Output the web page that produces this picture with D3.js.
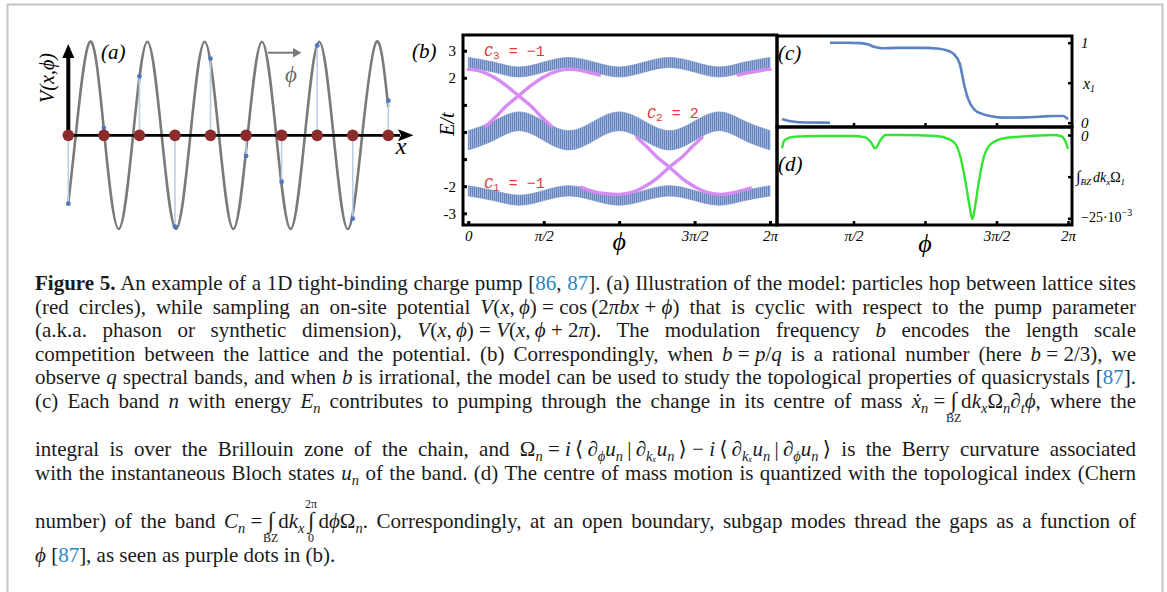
<!DOCTYPE html>
<html>
<head>
<meta charset="utf-8">
<script src="https://cdn.jsdelivr.net/npm/d3@7"></script>
<style>
  html, body { margin: 0; padding: 0; background: #fff; }
  svg { display: block; }
</style>
</head>
<body>
<svg id="fig" width="1167" height="592"></svg>
<script>
const PI = Math.PI;

// ---------- (a) lattice model ----------
const siteIndex = [0, 1, 2, 3, 4, 5, 6, 7, 8, 9];
const siteValues = [-0.73, 0.08, 0.63, -0.975, 0.82, -0.22, -0.495, 0.96, -0.89, 0.37];
// potential sampled at its extrema and nodes (position in lattice spacings)
const waveU = [0, 0.21, 0.613, 1.016, 1.419, 1.822, 2.224, 2.627, 3.03, 3.433, 3.835, 4.238,
               4.641, 5.044, 5.446, 5.849, 6.252, 6.655, 7.057, 7.46, 7.863, 8.266, 8.668, 9.0];
const waveV = [-0.73, 0, 1, 0, -1, 0, 1, 0, -1, 0, 1, 0,
               -1, 0, 1, 0, -1, 0, 1, 0, -1, 0, 1, 0.3];

// ---------- (b) spectrum vs phason (phi in units of pi) ----------
const bandPhi = [0, 1/6, 1/3, 1/2, 2/3, 5/6, 1, 7/6, 4/3, 3/2, 5/3, 11/6, 2];
const band3Hi = [2.75, 2.58, 2.40, 2.58, 2.75, 2.58, 2.40, 2.58, 2.75, 2.58, 2.40, 2.58, 2.75];
const band3Lo = [2.38, 2.21, 2.03, 2.21, 2.38, 2.21, 2.03, 2.21, 2.38, 2.21, 2.03, 2.21, 2.38];
const band2Hi = [0.05, 0.40, 0.74, 0.40, 0.05, 0.40, 0.74, 0.40, 0.05, 0.40, 0.74, 0.40, 0.05];
const band2Lo = [-0.66, -0.31, 0.05, -0.31, -0.66, -0.31, 0.05, -0.31, -0.66, -0.31, 0.05, -0.31, -0.66];
const band1Hi = [-1.98, -2.16, -2.33, -2.16, -1.98, -2.16, -2.33, -2.16, -1.98, -2.16, -2.33, -2.16, -1.98];
const band1Lo = [-2.36, -2.53, -2.70, -2.53, -2.36, -2.53, -2.70, -2.53, -2.36, -2.53, -2.70, -2.53, -2.36];
const bandTicksE = [-3, -2, -1, 0, 1, 2, 3];
const bandLabelsE = [-3, -2, 2, 3];

// edge (subgap) modes
const edgeAPhi = [0, 0.083, 0.167, 0.25, 0.333, 0.417, 0.477, 0.55];
const edgeAE   = [2.31, 2.24, 2.03, 1.72, 1.34, 0.95, 0.60, 0.22];
const edgeBPhi = [0.117, 0.19, 0.25, 0.333, 0.417, 0.5, 0.583, 0.667, 0.75, 0.87];
const edgeBE   = [0.22, 0.60, 0.95, 1.34, 1.72, 2.03, 2.24, 2.31, 2.27, 2.10];
const edgeB2Phi = [1.79, 1.87, 1.95, 2.0];
const edgeB2E   = [2.10, 2.20, 2.28, 2.31];
const edgeCPhi = [0.75, 0.833, 0.917, 1.0, 1.083, 1.167, 1.25, 1.333, 1.417, 1.477, 1.55];
const edgeCE   = [-2.04, -2.21, -2.28, -2.30, -2.23, -2.02, -1.71, -1.30, -0.92, -0.58, -0.20];
const edgeDPhi = [1.117, 1.19, 1.25, 1.333, 1.417, 1.5, 1.583, 1.667, 1.75, 1.87];
const edgeDE   = [-0.20, -0.58, -0.92, -1.30, -1.71, -2.02, -2.23, -2.30, -2.25, -2.07];

// ---------- (c) centre of mass of band 1 ----------
const comPhi1 = [0, 0.05, 0.1, 0.2, 0.336];
const comX1   = [0.046, 0.02, 0.008, 0.002, 0.0];
const comPhi2 = [0.336, 0.45, 0.55, 0.6, 0.65, 0.7, 0.8, 1.0, 1.1, 1.15, 1.2, 1.2425, 1.277, 1.3, 1.347, 1.4, 1.455, 1.548, 1.7, 1.8, 1.897, 1.967, 2.0];
const comX2   = [1.0, 1.0, 0.995, 0.98, 0.945, 0.93, 0.935, 0.935, 0.925, 0.905, 0.86, 0.74, 0.45, 0.305, 0.16, 0.11, 0.084, 0.063, 0.066, 0.075, 0.084, 0.084, 0.042];

// ---------- (d) integrated Berry curvature (x 1e-3) ----------
const curvPhi = [0, 0.018, 0.088, 0.253, 0.488, 0.583, 0.618, 0.653, 0.689, 0.724, 0.841, 1.077, 1.171, 1.218, 1.253,
                 1.289, 1.312, 1.331, 1.350, 1.371, 1.406, 1.453, 1.547, 1.665, 1.900, 1.948, 1.983, 2.0];
const curvVal = [-4.0, -1.5, -0.5, -0.3, -0.3, -0.7, -2.0, -4.0, -1.5, 0, 0, -0.3, -1.3, -3.0, -7.5,
                 -15.5, -21.5, -25.3, -21.5, -15.5, -7.5, -3.0, -1.0, -0.5, 0, -0.3, -2.0, -4.2];

// ---------- caption ----------
const capLines = [
  "{b:Figure 5.} An example of a 1D tight-binding charge pump [{r:86}, {r:87}]. (a) Illustration of the model: particles hop between lattice sites",
  "(red circles), while sampling an on-site potential {i:V}({i:x},\u2009{i:ϕ})\u2005=\u2005cos\u2009(2{i:πbx}\u2005+\u2005{i:ϕ}) that is cyclic with respect to the pump parameter",
  "(a.k.a. phason or synthetic dimension), {i:V}({i:x},\u2009{i:ϕ})\u2005=\u2005{i:V}({i:x},\u2009{i:ϕ}\u2005+\u20052{i:π}). The modulation frequency {i:b} encodes the length scale",
  "competition between the lattice and the potential. (b) Correspondingly, when {i:b}\u2005=\u2005{i:p}/{i:q} is a rational number (here {i:b}\u2005=\u20052/3), we",
  "observe {i:q} spectral bands, and when {i:b} is irrational, the model can be used to study the topological properties of quasicrystals [{r:87}].",
  "(c) Each band {i:n} with energy {i:E}{_:n} contributes to pumping through the change in its centre of mass {i:ẋ}{_:n}\u2005=\u2005{I:BZ}\u2009d{i:k}{_:x}Ω{_:n}∂{_:t}{i:ϕ}, where the",
  "integral is over the Brillouin zone of the chain, and Ω{_:n}\u2005=\u2005{i:i}\u2009⟨\u2009∂{_:ϕ}{i:u}{_:n}\u2009|\u2009∂{_:kₓ}{i:u}{_:n}\u2009⟩\u2005−\u2005{i:i}\u2009⟨\u2009∂{_:kₓ}{i:u}{_:n}\u2009|\u2009∂{_:ϕ}{i:u}{_:n}\u2009⟩ is the Berry curvature associated",
  "with the instantaneous Bloch states {i:u}{_:n} of the band. (d) The centre of mass motion is quantized with the topological index (Chern",
  "number) of the band {i:C}{_:n}\u2005=\u2005{I:BZ}\u2009d{i:k}{_:x}\u2006{J:0|2π}\u2009d{i:ϕ}Ω{_:n}. Correspondingly, at an open boundary, subgap modes thread the gaps as a function of",
  "{i:ϕ} [{r:87}], as seen as purple dots in (b)."
];
const capBaselines = [290, 313.5, 337, 360.5, 384, 407.5, 456, 479.5, 528, 562];

// ================= drawing =================
const svg = d3.select("#fig");
const serif = "'Liberation Serif', 'Times New Roman', 'DejaVu Serif', serif";
const defs = svg.append("defs");

// page frame
svg.append("path")
  .attr("d", "M7.5,592 V4.5 H1162.5 V592")
  .attr("fill", "none").attr("stroke", "#c4c4c4").attr("stroke-width", 2);

// ---------- panel (a) ----------
const xA = d3.scaleLinear().domain([0, 9]).range([68.3, 388.3]);
const yA = d3.scaleLinear().domain([-1, 1]).range([229, 41.7]);
const gA = svg.append("g");

gA.append("path")
  .datum(d3.zip(waveU, waveV))
  .attr("d", d3.line().x(d => xA(d[0])).y(d => yA(d[1])).curve(d3.curveNatural))
  .attr("fill", "none").attr("stroke", "#7a7a7a").attr("stroke-width", 2.6);

gA.selectAll("line.stem").data(siteIndex).join("line")
  .attr("class", "stem")
  .attr("x1", i => xA(i)).attr("x2", i => xA(i))
  .attr("y1", yA(0)).attr("y2", i => yA(siteValues[i]))
  .attr("stroke", "#bfcde8").attr("stroke-width", 1.6);

gA.selectAll("circle.val").data(siteIndex).join("circle")
  .attr("class", "val")
  .attr("cx", i => xA(i)).attr("cy", i => yA(siteValues[i])).attr("r", 2.4)
  .attr("fill", "#4e78bf");

// axes arrows
const axY = yA(0), axX = xA(0);
gA.append("line").attr("x1", axX).attr("x2", 400).attr("y1", axY).attr("y2", axY)
  .attr("stroke", "#000").attr("stroke-width", 2.6);
gA.append("path").attr("d", `M398,${axY - 6} L413.5,${axY} L398,${axY + 6} L401,${axY} Z`).attr("fill", "#000");
gA.append("line").attr("x1", axX).attr("x2", axX).attr("y1", axY).attr("y2", 56)
  .attr("stroke", "#000").attr("stroke-width", 4);
gA.append("path").attr("d", `M${axX - 6},58 L${axX},44 L${axX + 6},58 Z`).attr("fill", "#000");

gA.selectAll("circle.site").data(siteIndex).join("circle")
  .attr("class", "site")
  .attr("cx", i => xA(i)).attr("cy", axY).attr("r", 5.8)
  .attr("fill", "#8c2b2b");

// phason arrow
gA.append("line").attr("x1", 268).attr("x2", 295).attr("y1", 52.7).attr("y2", 52.7)
  .attr("stroke", "#7a7a7a").attr("stroke-width", 2);
gA.append("path").attr("d", "M293,48 L301.5,52.7 L293,57.4 Z").attr("fill", "#7a7a7a");
gA.append("text").attr("x", 291).attr("y", 82).attr("text-anchor", "middle")
  .style("font-family", serif).style("font-style", "italic").style("font-size", "23px")
  .attr("fill", "#6a6a6a").text("ϕ");

gA.append("text").attr("x", 101).attr("y", 59)
  .style("font-family", serif).style("font-style", "italic").style("font-size", "21px").text("(a)");
gA.append("text").attr("transform", "translate(54,78) rotate(-90)").attr("text-anchor", "middle")
  .style("font-family", serif).style("font-style", "italic").style("font-size", "20px").text("V(x,ϕ)");
gA.append("text").attr("x", 401).attr("y", 154).attr("text-anchor", "middle")
  .style("font-family", serif).style("font-style", "italic").style("font-size", "24px").text("x");

// ---------- panel (b) ----------
const bx0 = 463, bx1 = 777, by0 = 35, by1 = 225;
const xB = d3.scaleLinear().domain([0, 2 * PI]).range([468.3, 770]);
const yB = d3.scaleLinear().domain([-3, 3]).range([213.3, 50.7]);
const gB = svg.append("g");

const pat = defs.append("pattern").attr("id", "bandTex")
  .attr("patternUnits", "userSpaceOnUse").attr("width", 2).attr("height", 6);
pat.append("rect").attr("width", 2).attr("height", 6).attr("fill", "#6382bc");
pat.append("rect").attr("x", 1).attr("width", 1).attr("height", 6).attr("fill", "#9fb5dd");

const bandArea = d3.area()
  .x(d => xB(d[0] * PI)).y0(d => yB(d[1])).y1(d => yB(d[2]))
  .curve(d3.curveNatural);
[[band1Lo, band1Hi], [band2Lo, band2Hi], [band3Lo, band3Hi]].forEach(([lo, hi]) => {
  gB.append("path")
    .datum(bandPhi.map((p, i) => [p, lo[i], hi[i]]))
    .attr("d", bandArea)
    .attr("fill", "url(#bandTex)").attr("stroke", "#7893c8").attr("stroke-width", 0.7);
});

const edgeLine = d3.line().x(d => xB(d[0] * PI)).y(d => yB(d[1])).curve(d3.curveNatural);
[[edgeAPhi, edgeAE], [edgeBPhi, edgeBE], [edgeB2Phi, edgeB2E], [edgeCPhi, edgeCE], [edgeDPhi, edgeDE]]
  .forEach(([ph, en]) => {
    gB.append("path").datum(d3.zip(ph, en)).attr("d", edgeLine)
      .attr("fill", "none").attr("stroke", "#d68cf3").attr("stroke-width", 3.4)
      .attr("stroke-linecap", "round");
  });

// frame and axes
gB.append("rect").attr("x", bx0).attr("y", by0).attr("width", bx1 - bx0).attr("height", by1 - by0)
  .attr("fill", "none").attr("stroke", "#000").attr("stroke-width", 3);

const axLeftB = gB.append("g").attr("transform", `translate(${bx0},0)`)
  .call(d3.axisLeft(yB).tickValues(bandTicksE).tickSize(-4).tickPadding(7)
    .tickFormat(d => bandLabelsE.includes(d) ? String(d) : ""));
axLeftB.select(".domain").remove();
axLeftB.selectAll("line").attr("stroke-width", 3);
axLeftB.selectAll("text").style("font-family", serif).style("font-size", "15px");

const phiTicks = [0, PI / 2, PI, 3 * PI / 2, 2 * PI];
const phiLabel = d => (d === 0 ? "0" : d === PI / 2 ? "π/2" : d === 3 * PI / 2 ? "3π/2" : d === 2 * PI ? "2π" : "");
const axBotB = gB.append("g").attr("transform", `translate(0,${by1})`)
  .call(d3.axisBottom(xB).tickValues(phiTicks).tickSize(-4).tickPadding(5).tickFormat(phiLabel));
axBotB.select(".domain").remove();
axBotB.selectAll("line").attr("stroke-width", 3);
axBotB.selectAll("text").style("font-family", serif).style("font-style", "italic").style("font-size", "15px");

gB.append("text").attr("x", xB(PI)).attr("y", 250).attr("text-anchor", "middle")
  .style("font-family", serif).style("font-style", "italic").style("font-size", "26px").text("ϕ");
gB.append("text").attr("transform", "translate(454,124) rotate(-90)").attr("text-anchor", "middle")
  .style("font-family", serif).style("font-style", "italic").style("font-size", "20px").text("E/t");
gB.append("text").attr("x", 412).attr("y", 58)
  .style("font-family", serif).style("font-style", "italic").style("font-size", "21px").text("(b)");

// Chern numbers
const mono = "'Liberation Mono', 'DejaVu Sans Mono', monospace";
function chern(x, y, idx, val) {
  const t = gB.append("text").attr("x", x).attr("y", y)
    .style("font-family", mono).style("font-size", "15px").attr("fill", "#e2383c");
  t.append("tspan").style("font-style", "italic").text("C");
  t.append("tspan").attr("dy", 3).style("font-size", "11px").text(idx);
  t.append("tspan").attr("dy", -3).text(" = " + val);
}
chern(484, 56, "3", "−1");
chern(647, 118, "2", "2");
chern(484, 188, "1", "−1");

// ---------- panels (c) and (d) ----------
const cx0 = 777, cx1 = 1072, cy0 = 36, cy1 = 127, dy1 = 225;
const xC = d3.scaleLinear().domain([0, 2 * PI]).range([782, 1068]);
const yC = d3.scaleLinear().domain([0, 1]).range([122.7, 42.7]);
const yD = d3.scaleLinear().domain([-0.025, 0]).range([218.3, 135]);
const gC = svg.append("g");

const comLine = d3.line().x(d => xC(d[0] * PI)).y(d => yC(d[1])).curve(d3.curveMonotoneX);
[[comPhi1, comX1], [comPhi2, comX2]].forEach(([ph, v]) => {
  gC.append("path").datum(d3.zip(ph, v)).attr("d", comLine)
    .attr("fill", "none").attr("stroke", "#5b82c1").attr("stroke-width", 2.6);
});

gC.append("path").datum(d3.zip(curvPhi, curvVal))
  .attr("d", d3.line().x(d => xC(d[0] * PI)).y(d => yD(d[1] * 1e-3)).curve(d3.curveMonotoneX))
  .attr("fill", "none").attr("stroke", "#33e433").attr("stroke-width", 2.4);

gC.append("rect").attr("x", cx0).attr("y", cy0).attr("width", cx1 - cx0).attr("height", cy1 - cy0)
  .attr("fill", "none").attr("stroke", "#000").attr("stroke-width", 3);
gC.append("rect").attr("x", cx0).attr("y", cy1).attr("width", cx1 - cx0).attr("height", dy1 - cy1)
  .attr("fill", "none").attr("stroke", "#000").attr("stroke-width", 3);

const axRC = gC.append("g").attr("transform", `translate(${cx1},0)`)
  .call(d3.axisRight(yC).tickValues([0, 0.5, 1]).tickSize(-4).tickFormat(""));
const axRD = gC.append("g").attr("transform", `translate(${cx1},0)`)
  .call(d3.axisRight(yD).tickValues([-0.025, -0.0125, 0]).tickSize(-4).tickFormat(""));
const axBC = gC.append("g").attr("transform", `translate(0,${dy1})`)
  .call(d3.axisBottom(xC).tickValues(phiTicks.slice(1)).tickSize(-4).tickPadding(5)
    .tickFormat(phiLabel));
const axMC = gC.append("g").attr("transform", `translate(0,${cy1})`)
  .call(d3.axisBottom(xC).tickValues(phiTicks.slice(1, 4)).tickSize(-4).tickFormat(""));
[axRC, axRD, axBC, axMC].forEach(g => {
  g.select(".domain").remove();
  g.selectAll("line").attr("stroke-width", 2.5);
});
axBC.selectAll("text").style("font-family", serif).style("font-style", "italic").style("font-size", "15px");

const lab = (x, y, size) => gC.append("text").attr("x", x).attr("y", y)
  .style("font-family", serif).style("font-style", "italic").style("font-size", size + "px");
lab(1081, yC(1) + 5, 15).text("1");
lab(1081, yC(0) + 5, 15).text("0");
const xl = lab(1083, 89, 16); xl.append("tspan").text("x");
xl.append("tspan").attr("dy", 3).style("font-size", "10px").text("1");
lab(1081, yD(0) + 6, 15).text("0");
const il = lab(1076, 182, 14);
il.append("tspan").style("font-style", "normal").style("font-size", "16px").text("∫");
il.append("tspan").attr("dy", 3).style("font-size", "9px").text("BZ");
il.append("tspan").attr("dy", -3).attr("dx", 2).text("dk");
il.append("tspan").attr("dy", 3).style("font-size", "9px").text("x");
il.append("tspan").attr("dy", -3).style("font-style", "normal").text("Ω");
il.append("tspan").attr("dy", 3).style("font-size", "9px").text("1");
const nl = lab(1081, yD(-0.025) + 4, 14).style("font-style", "normal");
nl.append("tspan").text("−25·10");
nl.append("tspan").attr("dy", -6).style("font-size", "10px").text("−3");

lab(778, 60, 21).text("(c)");
lab(778, 171, 21).text("(d)");
gC.append("text").attr("x", xC(PI)).attr("y", 252).attr("text-anchor", "middle")
  .style("font-family", serif).style("font-style", "italic").style("font-size", "26px").text("ϕ");

// ---------- caption ----------
const capLeft = 35, capRight = 1136, capSize = 21;
const gCap = svg.append("g").style("font-family", serif).style("font-size", capSize + "px").attr("fill", "#1a1a1a");

function parseLine(s) {
  const re = /\{([bir_~IJ]):([^}]*)\}/g;
  const out = []; let last = 0, m;
  while ((m = re.exec(s))) {
    if (m.index > last) out.push({ k: "t", s: s.slice(last, m.index) });
    out.push({ k: m[1], s: m[2] });
    last = re.lastIndex;
  }
  if (last < s.length) out.push({ k: "t", s: s.slice(last) });
  return out;
}

capLines.forEach((line, li) => {
  const base = capBaselines[li];
  const t = gCap.append("text").attr("x", capLeft).attr("y", base);
  let off = 0, plain = "";
  const ints = [];
  parseLine(line).forEach(seg => {
    let target = 0, txt = seg.s;
    const ts = t.append("tspan");
    if (seg.k === "_") { target = 5; ts.style("font-size", "14.5px").style("font-style", "italic"); }
    else if (seg.k === "i") ts.style("font-style", "italic");
    else if (seg.k === "b") ts.style("font-weight", "bold");
    else if (seg.k === "r") ts.attr("fill", "#2a86c4");
    else if (seg.k === "I" || seg.k === "J") { txt = "∫"; ts.style("font-size", "23px"); }
    ts.text(txt);
    if (target !== off) { ts.attr("dy", target - off); off = target; }
    plain += txt;
    if (seg.k === "I" || seg.k === "J") ints.push({ node: ts.node(), lim: seg.s, k: seg.k });
  });
  if (li < capLines.length - 1) {
    const len = t.node().getComputedTextLength();
    const spaces = plain.split(" ").length - 1;
    if (spaces > 0) t.attr("word-spacing", ((capRight - capLeft) - len) / spaces);
  }
  ints.forEach(o => {
    const bb = o.node.getBBox();
    const cx = bb.x + bb.width / 2;
    const parts = o.lim.split("|");
    gCap.append("text").attr("x", cx).attr("y", base + 14).attr("text-anchor", "middle")
      .style("font-size", "12px").text(parts[0]);
    if (parts[1]) {
      gCap.append("text").attr("x", cx).attr("y", base - 20).attr("text-anchor", "middle")
        .style("font-size", "12px").text(parts[1]);
    }
  });
});
</script>
</body>
</html>
